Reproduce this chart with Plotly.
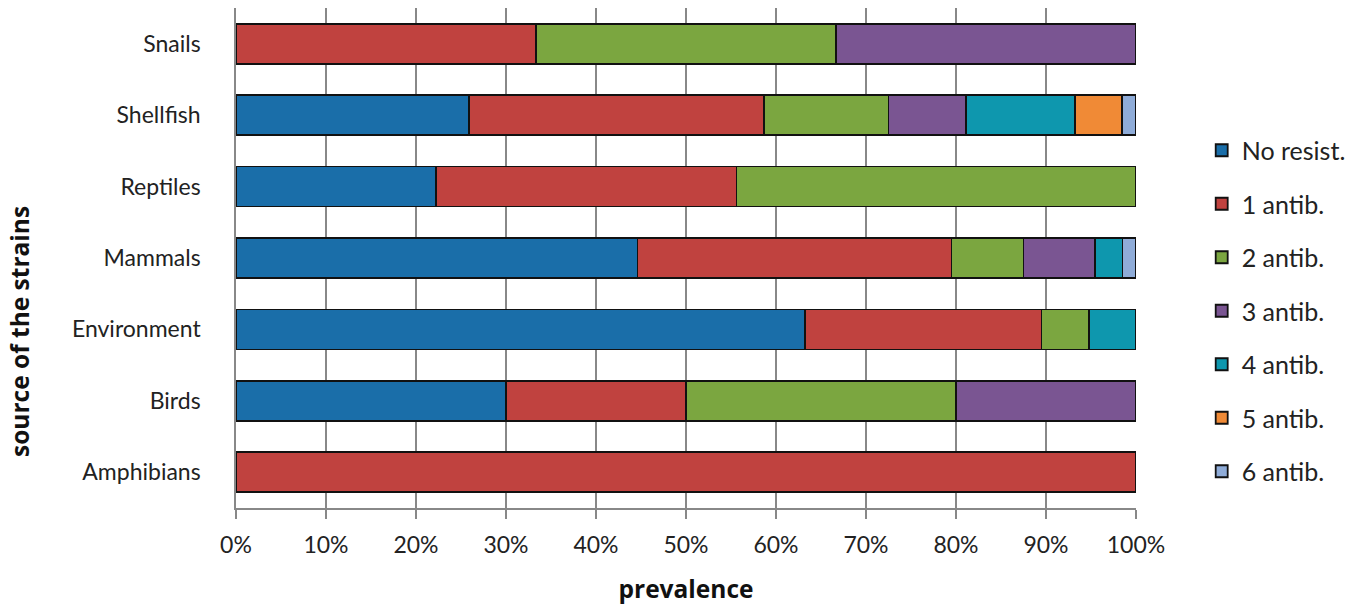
import plotly.graph_objects as go

categories = ["Amphibians", "Birds", "Environment", "Mammals", "Reptiles", "Shellfish", "Snails"]
series_names = ["No resist.", "1 antib.", "2 antib.", "3 antib.", "4 antib.", "5 antib.", "6 antib."]

no_resist = [0, 30.0, 63.2, 44.6, 22.2, 25.9, 0]
antib_1 = [100, 20.0, 26.3, 34.9, 33.4, 32.8, 33.3]
antib_2 = [0, 30.0, 5.3, 8.0, 44.4, 13.8, 33.4]
antib_3 = [0, 20.0, 0, 7.9, 0, 8.6, 33.3]
antib_4 = [0, 0, 5.2, 3.1, 0, 12.1, 0]
antib_5 = [0, 0, 0, 0, 0, 5.2, 0]
antib_6 = [0, 0, 0, 1.5, 0, 1.6, 0]

series_values = [no_resist, antib_1, antib_2, antib_3, antib_4, antib_5, antib_6]
colors = ["#1A6EA9", "#C0423F", "#7BA640", "#7A5592", "#0E97AE", "#F08A36", "#8FACD8"]

x_ticks = [0, 10, 20, 30, 40, 50, 60, 70, 80, 90, 100]
x_tick_labels = [f"{t}%" for t in x_ticks]

FONT = "Lato, Open Sans, sans-serif"
TFONT = "Open Sans, Lato, sans-serif"

fig = go.Figure()
for name, vals, col in zip(series_names, series_values, colors):
    fig.add_trace(go.Bar(
        y=categories, x=vals, name=name, orientation="h",
        marker=dict(color=col, line=dict(color="#111111", width=1.8)),
        legendgroup=name,
    ))

fig.update_layout(
    barmode="stack",
    bargap=0.44,
    width=1366, height=606,
    margin=dict(l=236, r=230, t=8, b=98),
    plot_bgcolor="white", paper_bgcolor="white",
    font=dict(family=FONT, size=23, color="#222222"),
    showlegend=True,
    legend=dict(
        x=1.073, xanchor="left", y=(508 - 311) / 500, yanchor="middle",
        traceorder="grouped", tracegroupgap=18,
        font=dict(family=FONT, size=25, color="#222222"),
        itemwidth=30,
    ),
    xaxis=dict(
        range=[0, 100], tickvals=x_ticks, ticktext=x_tick_labels,
        showgrid=True, gridcolor="#888888", gridwidth=1.5,
        showline=True, linecolor="#888888", linewidth=1.5,
        ticks="outside", ticklen=9, tickcolor="#888888", tickwidth=1.5,
        ticklabelstandoff=7,
        zeroline=False,
        title=dict(text="<b>prevalence</b>", font=dict(family=TFONT, size=24.5, color="#111111"), standoff=24),
    ),
    yaxis=dict(
        showline=True, linecolor="#888888", linewidth=1.5,
        ticks="", ticklabelstandoff=29,
        showgrid=False,
        categoryorder="array", categoryarray=categories,
    ),
    annotations=[dict(
        text="<b>source of the strains</b>", textangle=-90,
        xref="paper", yref="paper", x=(19 - 236) / 900, y=(508 - 332) / 500,
        xanchor="center", yanchor="middle", showarrow=False,
        font=dict(family=TFONT, size=24.5, color="#111111"),
    )],
)

fig.write_html("out.html", post_script="document.body.style.margin='0';",
               config={"displayModeBar": False})
